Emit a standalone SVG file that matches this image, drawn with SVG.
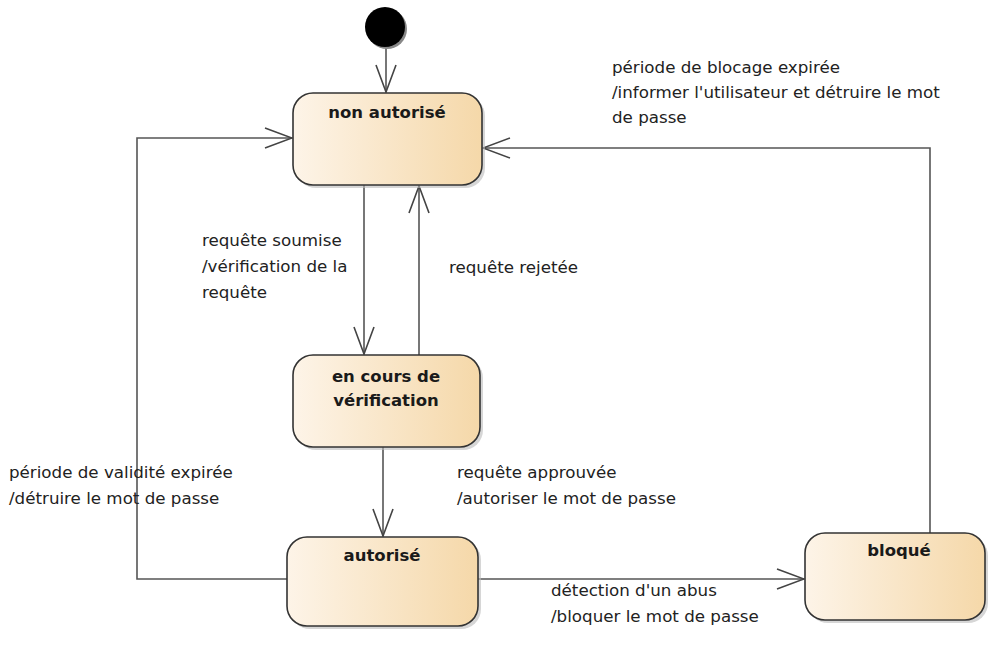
<svg xmlns="http://www.w3.org/2000/svg" width="988" height="659" viewBox="0 0 988 659">
<defs>
<linearGradient id="g" x1="0" y1="0" x2="1" y2="0">
<stop offset="0" stop-color="#fdf4e8"/>
<stop offset="1" stop-color="#f5d8a9"/>
</linearGradient>
<marker id="a" markerWidth="30" markerHeight="24" refX="28" refY="11" orient="auto" markerUnits="userSpaceOnUse">
<path d="M1,1 L28,11 L1,21" fill="none" stroke="#444" stroke-width="1.6"/>
</marker>
</defs>
<style>
.box{fill:url(#g);stroke:#333;stroke-width:1.6}
.sh{fill:#bbb;opacity:0.6}
.t{font-family:"DejaVu Sans",sans-serif;font-size:16.5px;font-weight:bold;fill:#1a1a1a;text-anchor:middle}
.l{font-family:"DejaVu Sans",sans-serif;font-size:16.7px;fill:#222}
.c{fill:none;stroke:#555;stroke-width:1.6}
</style>
<rect width="988" height="659" fill="#fff"/>
<g id="connectors">
<path class="c" d="M386,47 L386,92" marker-end="url(#a)"/>
<path class="c" d="M364,185 L364,354" marker-end="url(#a)"/>
<path class="c" d="M419,355 L419,186" marker-end="url(#a)"/>
<path class="c" d="M383,447 L383,536" marker-end="url(#a)"/>
<path class="c" d="M287,579 L137,579 L137,138 L292,138" marker-end="url(#a)"/>
<path class="c" d="M478,579 L804,579" marker-end="url(#a)"/>
<path class="c" d="M930,533 L930,148 L483,148" marker-end="url(#a)"/>
</g>
<g id="initial">
<circle cx="387" cy="29" r="20" fill="#888"/>
<circle cx="385" cy="27" r="20" fill="#000"/>
</g>
<g id="non_autorise">
<rect class="sh" x="296" y="96" width="189" height="92" rx="20"/>
<rect class="box" x="293" y="93" width="189" height="92" rx="20"/>
<text class="t" x="387" y="118">non autorisé</text>
</g>
<g id="en_cours">
<rect class="sh" x="296" y="358" width="187" height="92" rx="20"/>
<rect class="box" x="293" y="355" width="187" height="92" rx="20"/>
<text class="t" x="386" y="382">en cours de</text>
<text class="t" x="386" y="406">vérification</text>
</g>
<g id="autorise">
<rect class="sh" x="290" y="540" width="191" height="89" rx="20"/>
<rect class="box" x="287" y="537" width="191" height="89" rx="20"/>
<text class="t" x="382" y="561">autorisé</text>
</g>
<g id="bloque">
<rect class="sh" x="808" y="536" width="180" height="87" rx="20"/>
<rect class="box" x="805" y="533" width="180" height="87" rx="20"/>
<text class="t" x="899" y="556">bloqué</text>
</g>
<g id="labels">
<text class="l" x="612" y="73">période de blocage expirée</text>
<text class="l" x="612" y="98">/informer l'utilisateur et détruire le mot</text>
<text class="l" x="612" y="123">de passe</text>
<text class="l" x="202" y="246">requête soumise</text>
<text class="l" x="202" y="272">/vérification de la</text>
<text class="l" x="202" y="298">requête</text>
<text class="l" x="449" y="273">requête rejetée</text>
<text class="l" x="457" y="478">requête approuvée</text>
<text class="l" x="457" y="504">/autoriser le mot de passe</text>
<text class="l" x="9" y="478">période de validité expirée</text>
<text class="l" x="9" y="504">/détruire le mot de passe</text>
<text class="l" x="551" y="596">détection d'un abus</text>
<text class="l" x="551" y="622">/bloquer le mot de passe</text>
</g>
</svg>
